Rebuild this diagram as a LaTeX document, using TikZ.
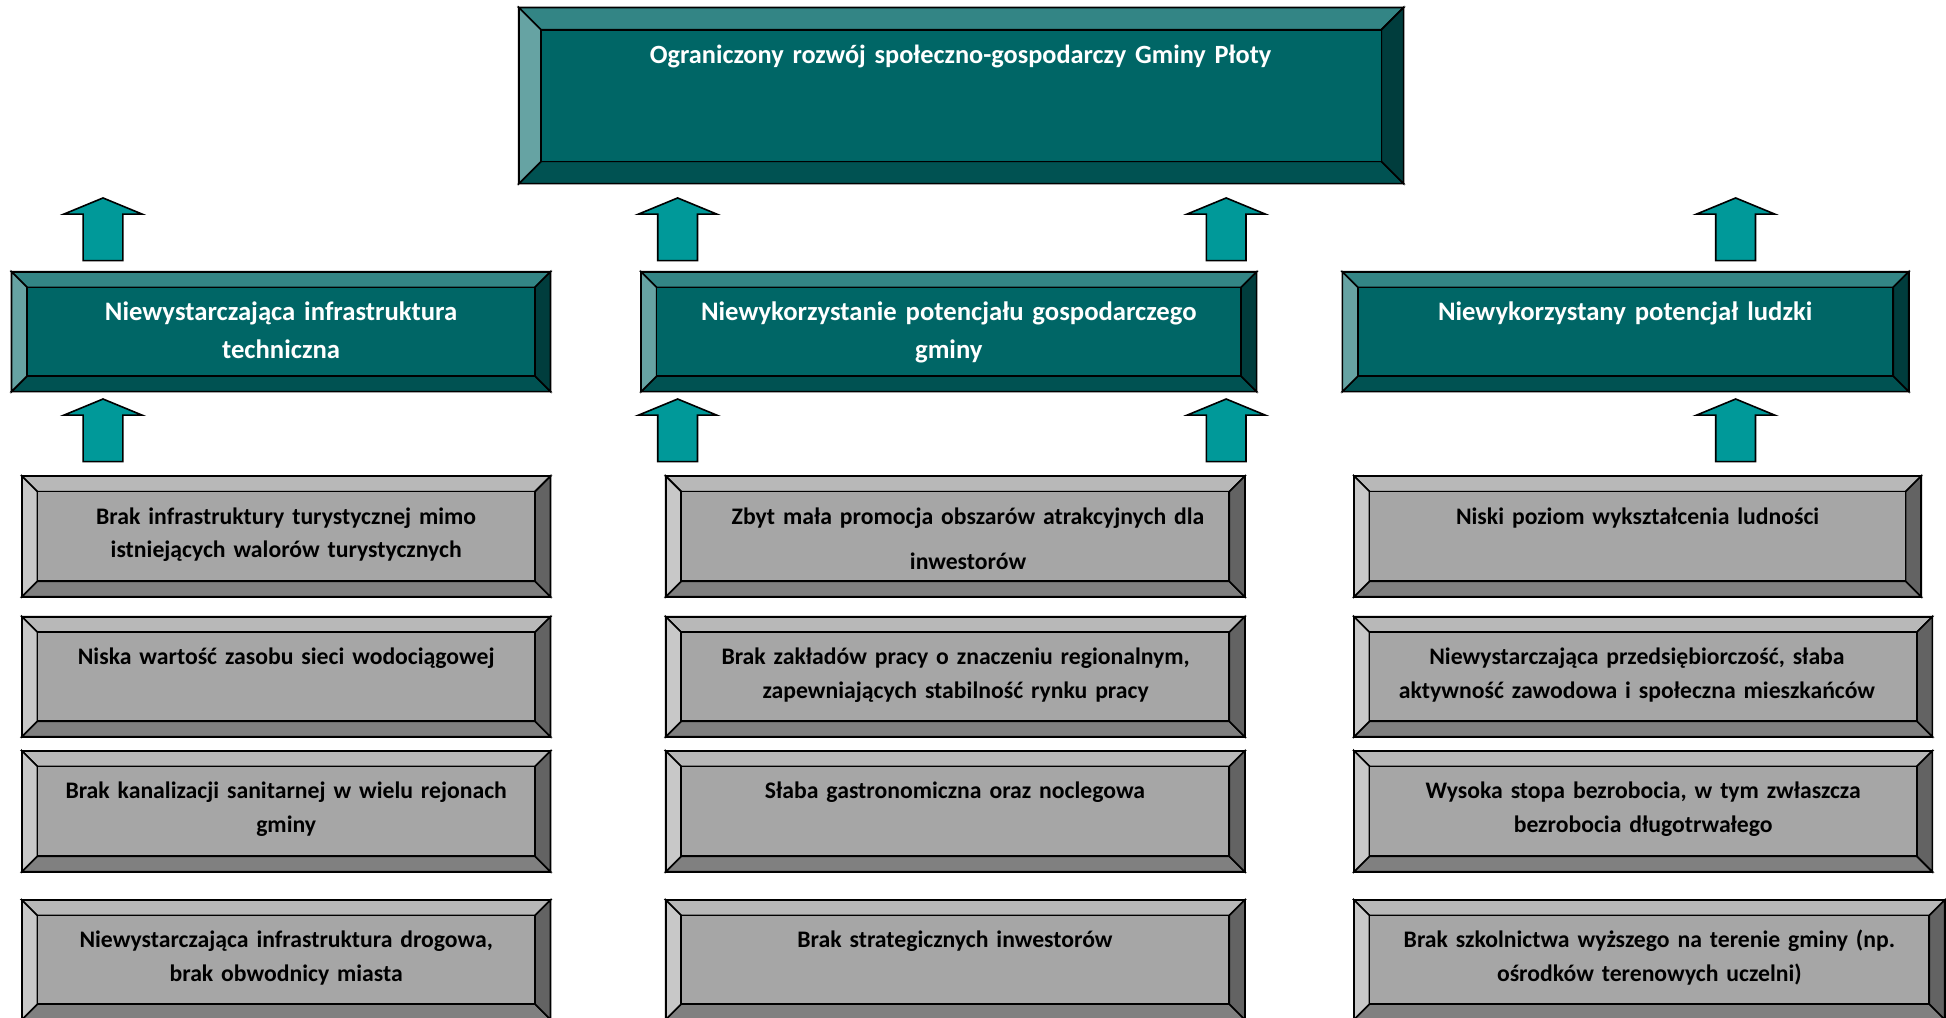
\documentclass[tikz,border=0pt]{standalone}
\usepackage{fontspec}
\setmainfont{Carlito}
\definecolor{tealC}{HTML}{006666}
\definecolor{tealT}{HTML}{338585}
\definecolor{tealL}{HTML}{66A3A3}
\definecolor{tealR}{HTML}{003D3D}
\definecolor{tealB}{HTML}{005252}
\definecolor{arrowC}{HTML}{009999}
\definecolor{greyC}{HTML}{A6A6A6}
\definecolor{greyT}{HTML}{B8B8B8}
\definecolor{greyL}{HTML}{C8C8C8}
\definecolor{greyR}{HTML}{636363}
\definecolor{greyB}{HTML}{808080}
\tikzset{
  boxline/.style={draw=black, line width=1.3pt, line join=miter},
  uparrow/.style={boxline, fill=arrowC},
  tealtxt/.style={text=white, font=\fontsize{21.5}{30}\selectfont\bfseries, align=center, anchor=base, inner sep=0pt},
  greytxt/.style={text=black, font=\fontsize{19.1}{27}\selectfont\bfseries, align=center, anchor=base, inner sep=0pt},
}
% name, x1, y1, x2, y2, bevel, palette
\newcommand{\bevbox}[7]{%
  \path[boxline, fill=#7T] (#2,#3) -- (#4,#3) -- ({#4-#6},{#3+#6}) -- ({#2+#6},{#3+#6}) -- cycle;
  \path[boxline, fill=#7B] (#2,#5) -- (#4,#5) -- ({#4-#6},{#5-#6}) -- ({#2+#6},{#5-#6}) -- cycle;
  \path[boxline, fill=#7L] (#2,#3) -- ({#2+#6},{#3+#6}) -- ({#2+#6},{#5-#6}) -- (#2,#5) -- cycle;
  \path[boxline, fill=#7R] (#4,#3) -- ({#4-#6},{#3+#6}) -- ({#4-#6},{#5-#6}) -- (#4,#5) -- cycle;
  \path[boxline, fill=#7C] ({#2+#6},{#3+#6}) rectangle ({#4-#6},{#5-#6});
  \path[boxline] (#2,#3) rectangle (#4,#5);
  \coordinate (#1) at ({(#2+#4)/2},{(#3+#5)/2});
}
% name, x, y of tip
\newcommand{\uparr}[3]{%
  \path[uparrow] (#2,#3) -- ({#2+31.5},{#3+13}) -- ({#2+16},{#3+13}) -- ({#2+16},{#3+50.5})
    -- ({#2-16},{#3+50.5}) -- ({#2-16},{#3+13}) -- ({#2-31.5},{#3+13}) -- cycle;
  \coordinate (#1) at (#2,#3);
}
\begin{document}
\begin{tikzpicture}[x=1pt,y=-1pt]
\useasboundingbox (0,0) rectangle (1568,820);
\fill[white] (0,0) rectangle (1568,820);

% top box
\bevbox{top}{418}{6}{1131}{148}{18}{teal}
\node[tealtxt, font=\fontsize{21.2}{30}\selectfont\bfseries, text width=660pt] (ttop) at (774,51.5) {Ograniczony rozwój społeczno-gospodarczy Gminy Płoty};

% upper arrows
\uparr{ua1}{83}{159.5}
\uparr{ua2}{546}{159.5}
\uparr{ua3}{988}{159.5}
\uparr{ua4}{1398.5}{159.5}

% middle teal boxes
\bevbox{mA}{9.3}{219}{443.6}{315.5}{12.5}{teal}
\bevbox{mB}{516.6}{219}{1012.5}{315.5}{12.5}{teal}
\bevbox{mC}{1081.6}{219}{1538}{315.5}{12.5}{teal}
\node[tealtxt, text width=400pt] (tA) at (226.5,258.5) {Niewystarczająca infrastruktura\\techniczna};
\node[tealtxt, text width=460pt] (tB) at (764.5,258.5) {Niewykorzystanie potencjału gospodarczego\\gminy};
\node[tealtxt, text width=420pt] (tC) at (1309.5,258.5) {Niewykorzystany potencjał ludzki};

% lower arrows
\uparr{la1}{83}{321.5}
\uparr{la2}{546}{321.5}
\uparr{la3}{988}{321.5}
\uparr{la4}{1398.5}{321.5}

% grey boxes column 1
\bevbox{g11}{17.6}{383.6}{443.6}{480.8}{12.5}{grey}
\bevbox{g12}{17.6}{496.9}{443.6}{593.6}{12.5}{grey}
\bevbox{g13}{17.6}{605}{443.6}{702.4}{12.5}{grey}
\bevbox{g14}{17.6}{725.2}{443.6}{821.5}{12.5}{grey}
% column 2
\bevbox{g21}{536.4}{383.6}{1003}{480.8}{12.5}{grey}
\bevbox{g22}{536.4}{496.9}{1003}{593.6}{12.5}{grey}
\bevbox{g23}{536.4}{605}{1003}{702.4}{12.5}{grey}
\bevbox{g24}{536.4}{725.2}{1003}{821.5}{12.5}{grey}
% column 3
\bevbox{g31}{1091}{383.6}{1548}{480.8}{12.5}{grey}
\bevbox{g32}{1091}{496.9}{1557}{593.6}{12.5}{grey}
\bevbox{g33}{1091}{605}{1557}{702.4}{12.5}{grey}
\bevbox{g34}{1091}{725.2}{1567}{821.5}{12.5}{grey}

\node[greytxt, text width=400pt] (x11) at (230.6,422.5) {Brak infrastruktury turystycznej mimo\\istniejących walorów turystycznych};
\node[greytxt, text width=400pt] (x12) at (230.6,535.5) {Niska wartość zasobu sieci wodociągowej};
\node[greytxt, text width=400pt] (x13) at (230.6,643.5) {Brak kanalizacji sanitarnej w wielu rejonach\\gminy};
\node[greytxt, text width=400pt] (x14) at (230.6,763.5) {Niewystarczająca infrastruktura drogowa,\\brak obwodnicy miasta};

\node[greytxt, text width=440pt, font=\fontsize{19.1}{36}\selectfont\bfseries] (x21) at (780,422.5) {Zbyt mała promocja obszarów atrakcyjnych dla\\inwestorów};
\node[greytxt, text width=440pt] (x22) at (770,535.5) {Brak zakładów pracy o znaczeniu regionalnym,\\zapewniających stabilność rynku pracy};
\node[greytxt, text width=440pt] (x23) at (769.5,643.5) {Słaba gastronomiczna oraz noclegowa};
\node[greytxt, text width=440pt] (x24) at (769.5,763.5) {Brak strategicznych inwestorów};

\node[greytxt, text width=440pt] (x31) at (1319.5,422.5) {Niski poziom wykształcenia ludności};
\node[greytxt, text width=440pt] (x32) at (1319,535.5) {Niewystarczająca przedsiębiorczość, słaba\\aktywność zawodowa i społeczna mieszkańców};
\node[greytxt, text width=440pt] (x33) at (1324,643.5) {Wysoka stopa bezrobocia, w tym zwłaszcza\\bezrobocia długotrwałego};
\node[greytxt, text width=450pt] (x34) at (1329,763.5) {Brak szkolnictwa wyższego na terenie gminy (np.\\ośrodków terenowych uczelni)};
\end{tikzpicture}
\end{document}
